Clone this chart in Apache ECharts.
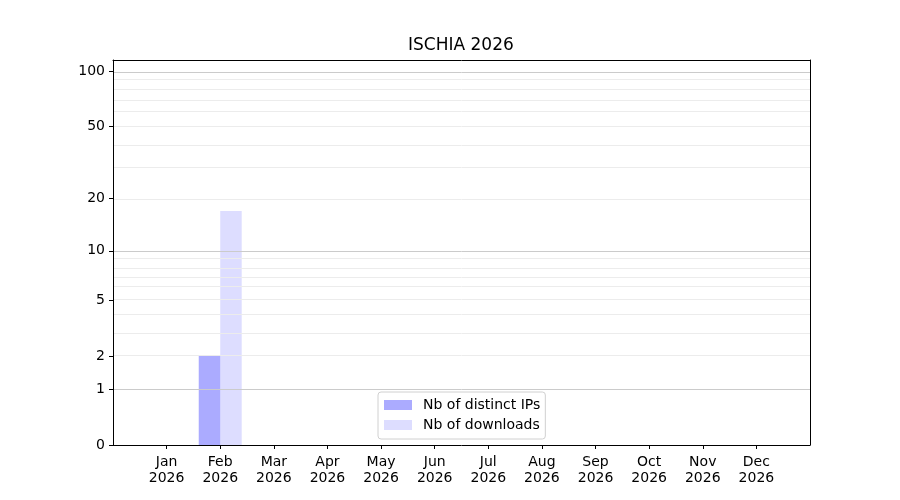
<!DOCTYPE html>
<html>
<head>
<meta charset="utf-8">
<script src="https://cdn.jsdelivr.net/npm/echarts@6/dist/echarts.min.js"></script>
<style>
  html, body { margin: 0; padding: 0; background: #fff; }
  #chart { width: 900px; height: 500px; }
</style>
</head>
<body>
<div id="chart"></div>
<script>
// data
var months = ['Jan', 'Feb', 'Mar', 'Apr', 'May', 'Jun', 'Jul', 'Aug', 'Sep', 'Oct', 'Nov', 'Dec'];
var year = '2026';
var distinctIPs = [0, 2, 0, 0, 0, 0, 0, 0, 0, 0, 0, 0];
var downloads = [0, 17, 0, 0, 0, 0, 0, 0, 0, 0, 0, 0];

// y axis (log10(v + 1) scale)
var yTicks = [0, 1, 2, 5, 10, 20, 50, 100];
var majorGrid = [1, 10, 100];
var minorGrid = [2, 3, 4, 5, 6, 7, 8, 9, 20, 30, 40, 50, 60, 70, 80, 90];
var yTop = 115;

function tr(v) { return Math.log10(v + 1); }

// one empty slot on each side, as the plot keeps a month of room there
var cats = [''].concat(months.map(function (m) { return m + '\n' + year; }), ['']);
function pad(arr) { return [null].concat(arr.map(tr), [null]); }

var font = 'DejaVu Sans';
var chart = echarts.init(document.getElementById('chart'));

var gridLines = majorGrid.map(function (v) {
    return { yAxis: tr(v), lineStyle: { color: '#cbcbcb', width: 1, type: 'solid' } };
}).concat(minorGrid.map(function (v) {
    return { yAxis: tr(v), lineStyle: { color: '#ececec', width: 1, type: 'solid' } };
}));

// plain black frame lines for the top and right sides
var frameAxis = {
    show: true,
    axisLine: { show: true, onZero: false, lineStyle: { color: '#000' } },
    axisTick: { show: false },
    axisLabel: { show: false },
    splitLine: { show: false },
    z: 10
};

chart.setOption({
    animation: false,
    textStyle: { fontFamily: font },
    title: {
        text: 'ISCHIA 2026',
        left: 408,
        top: 37,
        padding: 0,
        textStyle: { fontFamily: font, fontSize: 17, fontWeight: 'normal', color: '#000' }
    },
    grid: {
        left: 113, right: 90, top: 60, bottom: 55
    },
    legend: {
        orient: 'vertical',
        left: 378,
        top: 392,
        padding: [6, 5, 7, 6],
        itemWidth: 28,
        itemHeight: 10,
        itemGap: 6,
        icon: 'rect',
        backgroundColor: '#fff',
        borderColor: '#d0d0d0',
        borderWidth: 1,
        borderRadius: 3,
        z: 20,
        textStyle: { fontFamily: font, fontSize: 14, color: '#000', padding: [0, 0, 0, 6] },
        data: ['Nb of distinct IPs', 'Nb of downloads']
    },
    xAxis: [{
        type: 'category',
        data: cats,
        boundaryGap: false,
        z: 10,
        axisLine: { onZero: false, lineStyle: { color: '#000' } },
        axisTick: {
            length: 4,
            lineStyle: { color: '#000' },
            interval: function (i) { return i > 0 && i < cats.length - 1; }
        },
        axisLabel: {
            interval: 0,
            margin: 9,
            fontSize: 14,
            lineHeight: 16,
            color: '#000',
            fontFamily: font
        },
        splitLine: { show: false }
    }, Object.assign({ type: 'category', data: cats, boundaryGap: false, position: 'top' }, frameAxis)],
    yAxis: [{
        type: 'value',
        min: 0,
        max: tr(yTop),
        z: 10,
        axisLine: { show: true, onZero: false, lineStyle: { color: '#000' } },
        axisTick: {
            show: true,
            length: 4,
            lineStyle: { color: '#000' },
            customValues: yTicks.map(tr)
        },
        axisLabel: {
            margin: 8,
            fontSize: 14,
            color: '#000',
            fontFamily: font,
            customValues: yTicks.map(tr),
            formatter: function (v) { return String(Math.round(Math.pow(10, v) - 1)); }
        },
        splitLine: { show: false }
    }, Object.assign({ type: 'value', min: 0, max: tr(yTop), position: 'right' }, frameAxis)],
    series: [
        {
            name: 'grid',
            type: 'line',
            data: [],
            z: 1,
            silent: true,
            markLine: {
                silent: true,
                symbol: 'none',
                label: { show: false },
                data: gridLines
            }
        },
        {
            name: 'Nb of distinct IPs',
            type: 'bar',
            data: pad(distinctIPs),
            barWidth: 21.5,
            barGap: '0%',
            z: 2,
            itemStyle: { color: 'rgba(0, 0, 255, 0.33)' }
        },
        {
            name: 'Nb of downloads',
            type: 'bar',
            data: pad(downloads),
            barWidth: 21.5,
            barGap: '0%',
            z: 2,
            itemStyle: { color: 'rgba(0, 0, 255, 0.135)' }
        }
    ]
});
</script>
</body>
</html>
